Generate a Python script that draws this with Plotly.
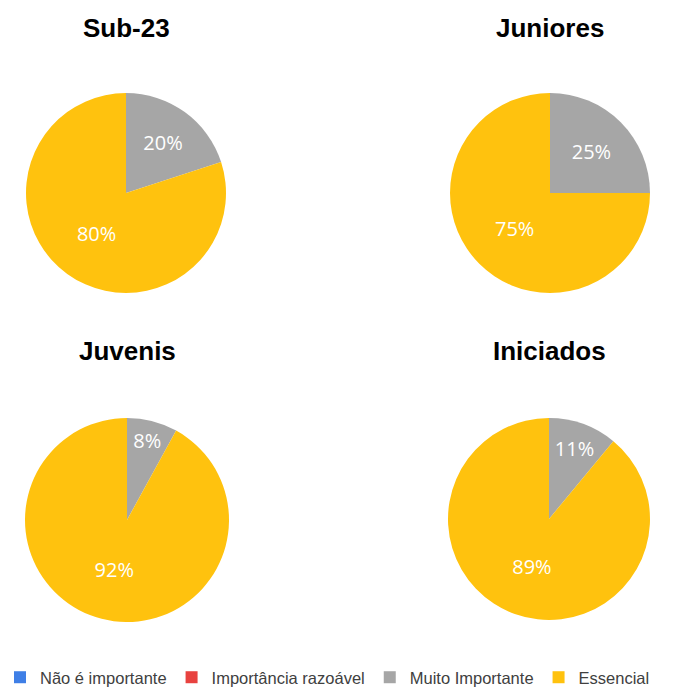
import plotly.graph_objects as go

# Response categories (legend order)
categories = ["Não é importante", "Importância razoável", "Muito Importante", "Essencial"]
category_colors = ["#3F7FE6", "#E8423F", "#A6A6A6", "#FFC20E"]

# Age groups and their response shares (%)
groups = ["Sub-23", "Juniores", "Juvenis", "Iniciados"]
sub23 = [0, 0, 20, 80]
juniores = [0, 0, 25, 75]
juvenis = [0, 0, 8, 92]
iniciados = [0, 0, 11, 89]
group_values = [sub23, juniores, juvenis, iniciados]

W, H = 675, 695
# pie centre (px) and radius (px) for each panel
centres = [(126, 193), (550, 193), (127, 520), (549, 519)]
radii = [100, 100, 102, 101]
title_y = [28, 28, 351, 351]

fig = go.Figure()
for name, vals, (cx, cy), r in zip(groups, group_values, centres, radii):
    fig.add_trace(go.Pie(
        labels=categories,
        values=vals,
        name=name,
        sort=False,
        direction="clockwise",
        rotation=0,
        marker=dict(colors=category_colors, line=dict(width=0)),
        textinfo="percent",
        texttemplate="%{percent:.0%}",
        textposition="inside",
        insidetextorientation="horizontal",
        textfont=dict(family="Open Sans", size=20, color="white"),
        hoverinfo="label+percent",
        domain=dict(x=[(cx - r) / W, (cx + r) / W],
                    y=[1 - (cy + r) / H, 1 - (cy - r) / H]),
    ))

for name, (cx, _), ty in zip(groups, centres, title_y):
    fig.add_annotation(
        text=f"<b>{name}</b>", x=cx / W, y=1 - ty / H,
        xref="paper", yref="paper", xanchor="center", yanchor="middle",
        showarrow=False, font=dict(family="Liberation Sans", size=26, color="black"),
    )

fig.update_layout(
    width=W, height=H,
    margin=dict(l=0, r=0, t=0, b=0, autoexpand=False),
    paper_bgcolor="white",
    plot_bgcolor="white",
    uniformtext=dict(minsize=20, mode="show"),
    legend=dict(
        orientation="h", x=0, xanchor="left", xref="container",
        y=-0.03, yanchor="bottom", yref="container",
        font=dict(family="Liberation Sans", size=16.5, color="#404040"),
        itemwidth=30, traceorder="normal",
    ),
)

fig.write_html("out.html")
